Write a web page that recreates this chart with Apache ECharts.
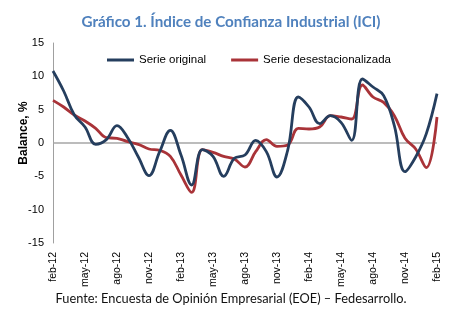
<!DOCTYPE html>
<html>
<head>
<meta charset="utf-8">
<script src="https://cdn.jsdelivr.net/npm/echarts@6/dist/echarts.min.js"></script>
<style>
  html, body { margin: 0; padding: 0; background: #fff; }
  #chart { width: 462px; height: 321px; }
</style>
</head>
<body>
<div id="chart"></div>
<script>
// Monthly periods, feb-12 .. feb-15
const monthNames = ['ene', 'feb', 'mar', 'abr', 'may', 'jun', 'jul', 'ago', 'sep', 'oct', 'nov', 'dic'];
const startYear = 12;
const startMonth = 1; // febrero
const periods = 37;

// Balance (%) — original series
const serieOriginal = [
  10.8, 7.8, 4.2, 2.4, -0.2, 0.5, 2.6, 0.8, -2.1, -4.9,
  -1.3, 1.9, -1.8, -6.3, -1.0, -2.0, -5.0, -2.3, -1.8, 0.4,
  -1.3, -5.1, -1.1, 6.9, 5.4, 2.9, 4.1, 3.1, 0.4, 9.6,
  8.4, 7.1, 2.6, -4.3, -2.1, 1.4, 7.4
];

// Balance (%) — seasonally adjusted series
const serieDesestacionalizada = [
  6.4, 5.4, 4.2, 3.3, 2.2, 0.8, 0.7, 0.2, -0.2, -0.9,
  -1.1, -2.0, -4.8, -7.4, -1.0, -1.4, -2.0, -2.4, -3.6, -1.3,
  0.5, -0.5, -0.3, 2.2, 2.1, 2.4, 4.1, 3.9, 3.6, 8.7,
  6.9, 6.1, 4.1, 0.7, -0.9, -3.7, 3.9
];

const categories = [];
for (let k = 0; k < periods; k++) {
  const m = (startMonth + k) % 12;
  const y = startYear + Math.floor((startMonth + k) / 12);
  categories.push(monthNames[m] + '-' + y);
}

const chart = echarts.init(document.getElementById('chart'), null, { renderer: 'canvas' });

const labelFont = '"Liberation Sans", Arial, sans-serif';

chart.setOption({
  animation: false,
  backgroundColor: '#ffffff',
  title: {
    text: 'Gráfico 1. Índice de Confianza Industrial (ICI)',
    left: 'center',
    top: 10,
    textStyle: {
      fontFamily: 'Lato, sans-serif',
      fontWeight: 'bold',
      fontSize: 15.2,
      color: '#4F81BD'
    }
  },
  legend: {
    left: 102,
    top: 49,
    itemWidth: 27,
    itemHeight: 3,
    itemGap: 25,
    icon: 'rect',
    textStyle: { fontFamily: labelFont, fontSize: 11.5, color: '#000' },
    data: ['Serie original', 'Serie desestacionalizada']
  },
  grid: { left: 53, right: 25, top: 43, bottom: 78 },
  xAxis: {
    type: 'category',
    data: categories,
    boundaryGap: false,
    axisLine: { show: false },
    axisTick: { show: false },
    axisLabel: {
      interval: 2,
      rotate: 90,
      margin: 9,
      fontFamily: labelFont,
      fontSize: 10.5,
      color: '#000'
    }
  },
  yAxis: {
    type: 'value',
    min: -15,
    max: 15,
    interval: 5,
    splitLine: { show: false },
    axisLine: { show: true, lineStyle: { color: '#A0A0A0', width: 1 } },
    axisTick: { show: false },
    axisLabel: { margin: 9, fontFamily: labelFont, fontSize: 11, color: '#000' }
  },
  graphic: [
    {
      type: 'text',
      x: 24,
      y: 133,
      rotation: Math.PI / 2,
      style: {
        text: 'Balance, %',
        fontFamily: labelFont,
        fontWeight: 'bold',
        fontSize: 12,
        fill: '#000',
        textAlign: 'center',
        textVerticalAlign: 'middle'
      }
    },
    {
      type: 'text',
      left: 'center',
      top: 292,
      style: {
        text: 'Fuente: Encuesta de Opinión Empresarial (EOE) – Fedesarrollo.',
        fontFamily: 'Lato, sans-serif',
        fontSize: 12.8,
        fill: '#111'
      }
    }
  ],
  series: [
    {
      name: 'Serie original',
      type: 'line',
      data: serieOriginal,
      smooth: 0.4,
      symbol: 'none',
      z: 3,
      lineStyle: { color: '#253E5E', width: 2.8 },
      itemStyle: { color: '#253E5E' },
      markLine: {
        silent: true,
        symbol: 'none',
        label: { show: false },
        lineStyle: { color: '#A6A6A6', width: 1.5, type: 'solid' },
        data: [{ yAxis: 0 }],
        z: 1
      }
    },
    {
      name: 'Serie desestacionalizada',
      type: 'line',
      data: serieDesestacionalizada,
      smooth: 0.4,
      symbol: 'none',
      z: 2,
      lineStyle: { color: '#A93338', width: 2.8 },
      itemStyle: { color: '#A93338' }
    }
  ]
});
</script>
</body>
</html>
